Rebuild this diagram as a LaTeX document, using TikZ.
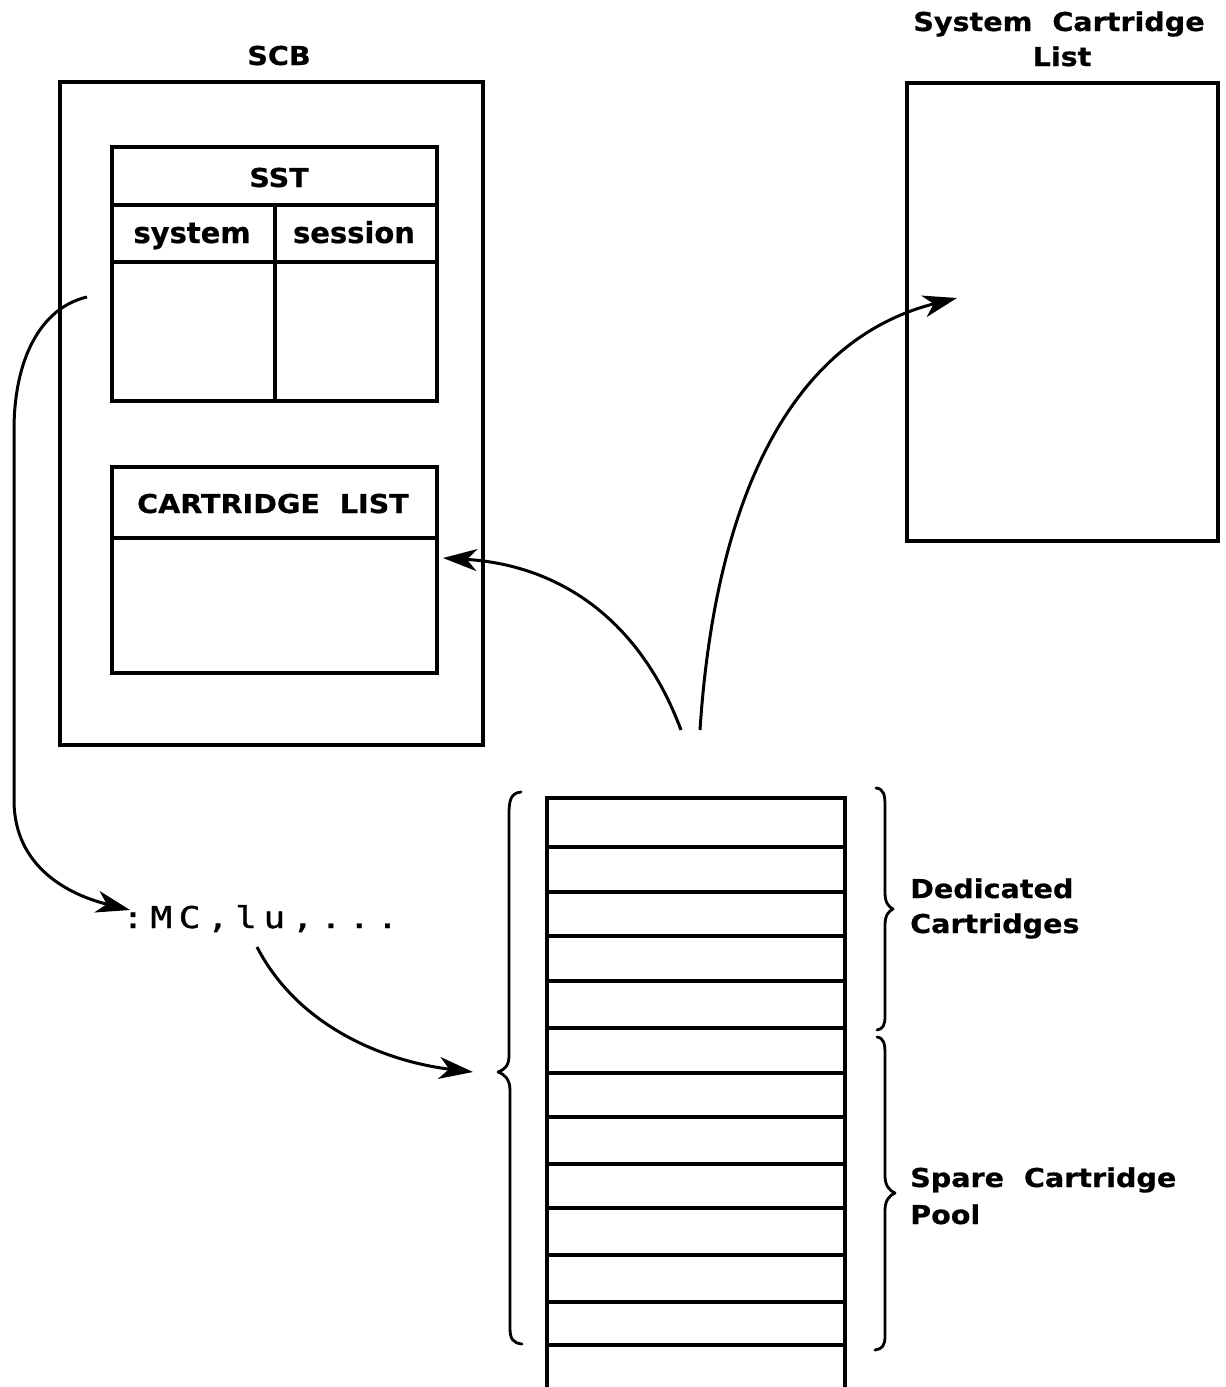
\documentclass[tikz,border=0pt]{standalone}
\usepackage{fontspec}
\usetikzlibrary{arrows.meta}
% bold wide sans for headings, plain sans for column heads, spaced mono for the command
\newfontfamily\lblfont{DejaVu Sans}[FakeStretch=1.1,FakeBold=0.6]
\newfontfamily\subfont{DejaVu Sans}[FakeBold=0.6]
\newfontfamily\cmdfont{DejaVu Sans Mono}[FakeStretch=1.2,LetterSpace=22,FakeBold=1.2]
\begin{document}
\begin{tikzpicture}[x=1pt,y=-1pt,
  box/.style={draw, line width=4pt, inner sep=0pt},
  rule/.style={line width=3.2pt},
  link/.style={line width=3pt, -{Stealth[length=34pt,width=22pt,inset=10pt]}},
  bracepath/.style={line width=2.8pt, line cap=round, line join=round},
  lbl/.style={font=\lblfont\bfseries\fontsize{26}{30}\selectfont, inner sep=0pt},
  sub/.style={font=\subfont\bfseries\fontsize{29}{34}\selectfont, inner sep=0pt},
  cmd/.style={font=\cmdfont\fontsize{30}{34}\selectfont, inner sep=0pt}]
\useasboundingbox (0,0) rectangle (1226,1387);

% ---- SCB with its two tables ----
\node[box, minimum width=423pt, minimum height=663pt] (scb) at (271.5,413.5) {};
\node[lbl, anchor=base] (scbtitle) at (279,65) {SCB};

\node[box, line width=3.2pt, minimum width=325pt, minimum height=254pt] (sst) at (274.5,274) {};
\draw[rule] (112,205) -- (437,205);
\draw[rule] (112,262) -- (437,262);
\draw[rule] (275,205) -- (275,401);
\node[lbl, anchor=base] (ssttitle) at (279,187) {SST};
\node[sub, anchor=base] (syscol) at (192,243) {system};
\node[sub, anchor=base] (sescol) at (354,243) {session};

\node[box, line width=3.2pt, minimum width=325pt, minimum height=206pt] (clist) at (274.5,570) {};
\draw[rule] (112,538) -- (437,538);
\node[lbl, anchor=base] (cltitle) at (273,513) {CARTRIDGE\ \ LIST};

% ---- system cartridge list ----
\node[box, minimum width=311pt, minimum height=458pt] (scl) at (1062.5,312) {};
\node[lbl, anchor=base] (scltitle1) at (1059,31) {System\ \ Cartridge};
\node[lbl, anchor=base] (scltitle2) at (1062,66) {List};

% ---- cartridge stack ----
\draw[line width=3.8pt] (547,1387) -- (547,798) -- (845,798) -- (845,1387);
\foreach \yy in {847,892,936,981,1028,1073,1117,1164,1208,1255,1302,1345}
  \draw[rule] (547,\yy) -- (845,\yy);

% braces
\draw[bracepath] (521,792) .. controls (511,793) and (509,800) .. (509,814)
  -- (509,1056) .. controls (509,1066) and (504,1070) .. (498,1072)
  .. controls (504,1074) and (510,1079) .. (510,1090)
  -- (510,1328) .. controls (510,1339) and (513,1343) .. (522,1344);
\draw[bracepath] (876,788) .. controls (884,789) and (885,795) .. (885,806)
  -- (885,893) .. controls (885,903) and (889,907) .. (893,909)
  .. controls (889,911) and (885,915) .. (885,925)
  -- (885,1016) .. controls (885,1025) and (883,1029) .. (877,1030);
\draw[bracepath] (877,1037) .. controls (884,1038) and (885,1044) .. (885,1054)
  -- (885,1176) .. controls (885,1186) and (890,1191) .. (895,1193)
  .. controls (890,1195) and (885,1200) .. (885,1210)
  -- (885,1336) .. controls (885,1346) and (882,1349) .. (875,1350);

\node[lbl, anchor=base west] (ded1) at (910,898) {Dedicated};
\node[lbl, anchor=base west] (ded2) at (910,933) {Cartridges};
\node[lbl, anchor=base west] (spare1) at (910,1187) {Spare\ \ Cartridge};
\node[lbl, anchor=base west] (spare2) at (910,1224) {Pool};

% ---- command text ----
\node[cmd, anchor=base west] (mc) at (122,928) {:MC,lu,...};

% ---- connectors ----
\coordinate (sstout) at (87,297);
\coordinate (cmdin) at (130,910);
\coordinate (cmdout) at (257,947);
\coordinate (poolin) at (473,1072);
\coordinate (poolup1) at (681,730);
\coordinate (poolup2) at (700,730);
\coordinate (clistin) at (443,558);
\coordinate (sclin) at (957,298);

\draw[link] (sstout) .. controls (40,308) and (14,360) .. (14,430)
  -- (14,800) .. controls (14,868) and (70,895) .. (cmdin);
\draw[link] (cmdout) .. controls (300,1030) and (390,1062) .. (poolin);
\draw[link] (poolup1) .. controls (640,620) and (560,565) .. (clistin);
\draw[link] (poolup2) .. controls (715,500) and (790,340) .. (sclin);
\end{tikzpicture}
\end{document}
